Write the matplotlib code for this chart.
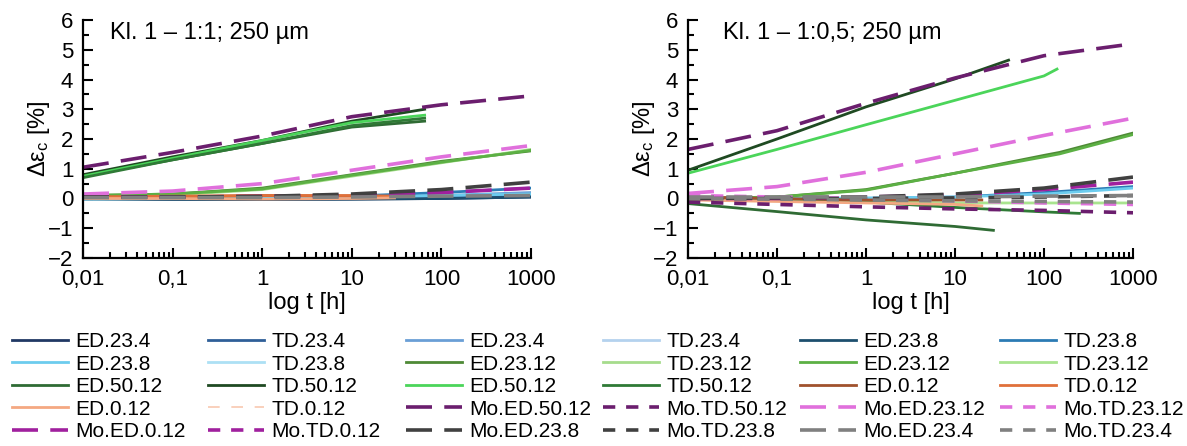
import numpy as np
import matplotlib
matplotlib.use("Agg")
import matplotlib.pyplot as plt
from matplotlib.ticker import MultipleLocator, LogLocator, NullFormatter
from matplotlib.lines import Line2D

plt.rcParams['font.family'] = ['Liberation Sans', 'DejaVu Sans']
plt.rcParams['mathtext.fontset'] = 'custom'
plt.rcParams['mathtext.rm'] = 'Liberation Sans'
plt.rcParams['mathtext.it'] = 'Liberation Sans:italic'

# ---- legend entries (row by row as in the picture) ----
labels = ["ED.23.4", "TD.23.4", "ED.23.4", "TD.23.4", "ED.23.8", "TD.23.8",
          "ED.23.8", "TD.23.8", "ED.23.12", "TD.23.12", "ED.23.12", "TD.23.12",
          "ED.50.12", "TD.50.12", "ED.50.12", "TD.50.12", "ED.0.12", "TD.0.12",
          "ED.0.12", "TD.0.12", "Mo.ED.50.12", "Mo.TD.50.12", "Mo.ED.23.12", "Mo.TD.23.12",
          "Mo.ED.0.12", "Mo.TD.0.12", "Mo.ED.23.8", "Mo.TD.23.8", "Mo.ED.23.4", "Mo.TD.23.4"]
colors = ["#203864", "#2f5f98", "#6a9fd6", "#b4d2ee", "#1d4f6e", "#2b7bb4",
          "#6cccee", "#ade0f4", "#4e8a36", "#a6dc8c", "#5cb044", "#a9e48f",
          "#2f6b34", "#1f4a22", "#4bd55a", "#2f7a36", "#a0522d", "#e0703a",
          "#f4a882", "#f8c8b0", "#6b1e6e", "#6b1e6e", "#e070dc", "#e070dc",
          "#a0209e", "#a0209e", "#404040", "#404040", "#808080", "#808080"]
kinds = ["s"] * 19 + ["thin"] + ["long", "short"] * 5

# ---- time axis points [h] ----
t_full = [0.01, 0.1, 1, 10, 100, 1000]
t_50_left = [0.01, 0.1, 1, 10, 65]
t_0_left = [0.01, 0.1, 1, 10, 30]
t_50_up_right = [0.01, 0.1, 1, 10, 40]
t_50_bright_right = [0.01, 0.1, 1, 10, 100, 140]
t_50_down_right = [0.01, 0.1, 1, 10, 27]
t_50_neg_right = [0.01, 0.1, 1, 10, 100, 250]
t_0_right = [0.01, 0.1, 1, 10, 20]
t_23_12_right = [0.01, 0.1, 1, 10, 100, 150, 1000]

# ---- left chart: Kl. 1 - 1:1; 250 um ----
left_ed_23_4 = [0.0, -0.02, -0.03, -0.02, 0.0, 0.05]
left_td_23_4 = [0.0, 0.0, 0.0, 0.02, 0.05, 0.1]
left_ed_23_4b = [0.0, 0.0, 0.02, 0.05, 0.1, 0.2]
left_ed_23_8 = [-0.02, -0.03, -0.03, -0.02, 0.0, 0.05]
left_td_23_8 = [0.0, 0.0, 0.02, 0.08, 0.2, 0.35]
left_ed_23_8b = [-0.02, 0.0, 0.02, 0.05, 0.1, 0.15]
left_ed_23_12 = [0.1, 0.15, 0.35, 0.8, 1.25, 1.6]
left_td_23_12 = [0.08, 0.12, 0.3, 0.75, 1.2, 1.65]
left_ed_23_12b = [0.1, 0.15, 0.32, 0.78, 1.22, 1.62]
left_ed_50_12 = [0.75, 1.3, 1.85, 2.4, 2.6]
left_td_50_12 = [0.8, 1.4, 1.95, 2.6, 3.0]
left_ed_50_12b = [0.75, 1.35, 1.95, 2.55, 2.8]
left_td_50_12b = [0.7, 1.3, 1.85, 2.45, 2.7]
left_ed_0_12 = [0.05, 0.05, 0.1, 0.08, 0.05]
left_td_0_12 = [0.05, 0.08, 0.1, 0.1, 0.08]
left_ed_0_12b = [0.0, 0.0, -0.02, 0.0, 0.02]
left_mo_ed_50_12 = [1.05, 1.55, 2.1, 2.75, 3.15, 3.45]
left_mo_ed_23_12 = [0.15, 0.25, 0.5, 0.95, 1.4, 1.78]
left_mo_ed_0_12 = [0.05, 0.05, 0.07, 0.1, 0.2, 0.35]
left_mo_ed_23_8 = [0.05, 0.05, 0.07, 0.15, 0.3, 0.55]
left_mo_ed_23_4 = [0.03, 0.03, 0.03, 0.05, 0.08, 0.1]

# ---- right chart: Kl. 1 - 1:0,5; 250 um ----
right_td_23_8 = [0.0, 0.0, 0.0, 0.05, 0.2, 0.4]
right_ed_23_8b = [0.0, 0.0, 0.02, 0.05, 0.15, 0.35]
right_ed_23_12 = [0.0, 0.05, 0.3, 0.85, 1.45, 1.55, 2.2]
right_ed_23_12b = [0.0, 0.05, 0.28, 0.85, 1.4, 1.5, 2.15]
right_td_23_12 = [0.0, -0.05, -0.1, -0.15, -0.15, -0.15, -0.15]
right_td_50_12 = [0.95, 2.0, 3.08, 4.02, 4.65]
right_ed_50_12b = [0.85, 1.65, 2.48, 3.3, 4.12, 4.35]
right_ed_50_12 = [-0.17, -0.44, -0.72, -0.94, -1.07]
right_td_50_12b = [0.0, -0.05, -0.12, -0.3, -0.45, -0.5]
right_ed_0_12 = [0.05, 0.0, -0.05, -0.05, -0.05]
right_ed_0_12b = [-0.05, -0.1, -0.15, -0.2, -0.25]
right_mo_ed_50_12 = [1.65, 2.28, 3.2, 4.05, 4.8, 5.2]
right_mo_td_50_12 = [-0.12, -0.2, -0.28, -0.35, -0.4, -0.48]
right_mo_ed_23_12 = [0.17, 0.4, 0.88, 1.5, 2.12, 2.7]
right_mo_td_23_12 = [0.1, 0.05, 0.0, -0.08, -0.15, -0.2]
right_mo_ed_0_12 = [0.0, 0.0, 0.05, 0.12, 0.3, 0.55]
right_mo_ed_23_8 = [0.0, 0.02, 0.05, 0.15, 0.35, 0.72]
right_mo_td_23_8 = [0.0, 0.0, 0.0, 0.02, 0.05, 0.1]
right_mo_ed_23_4 = [0.05, 0.05, 0.05, 0.05, 0.08, 0.1]
right_mo_td_23_4 = [0.0, -0.02, -0.05, -0.08, -0.1, -0.12]

xtick_vals = [0.01, 0.1, 1, 10, 100, 1000]
xtick_labels = ["0,01", "0,1", "1", "10", "100", "1000"]
titles = ["Kl. 1 \u2013 1:1; 250 \u00b5m", "Kl. 1 \u2013 1:0,5; 250 \u00b5m"]

left_series = [
    (0, t_full, left_ed_23_4), (1, t_full, left_td_23_4), (2, t_full, left_ed_23_4b),
    (4, t_full, left_ed_23_8), (5, t_full, left_td_23_8), (6, t_full, left_ed_23_8b),
    (8, t_full, left_ed_23_12), (9, t_full, left_td_23_12), (10, t_full, left_ed_23_12b),
    (12, t_50_left, left_ed_50_12), (13, t_50_left, left_td_50_12),
    (14, t_50_left, left_ed_50_12b), (15, t_50_left, left_td_50_12b),
    (16, t_0_left, left_ed_0_12), (17, t_0_left, left_td_0_12), (18, t_0_left, left_ed_0_12b),
    (20, t_full, left_mo_ed_50_12), (22, t_full, left_mo_ed_23_12),
    (24, t_full, left_mo_ed_0_12), (26, t_full, left_mo_ed_23_8), (28, t_full, left_mo_ed_23_4),
]
right_series = [
    (5, t_full, right_td_23_8), (6, t_full, right_ed_23_8b),
    (8, t_23_12_right, right_ed_23_12), (10, t_23_12_right, right_ed_23_12b),
    (11, t_23_12_right, right_td_23_12),
    (12, t_50_down_right, right_ed_50_12), (13, t_50_up_right, right_td_50_12),
    (14, t_50_bright_right, right_ed_50_12b), (15, t_50_neg_right, right_td_50_12b),
    (16, t_0_right, right_ed_0_12), (18, t_0_right, right_ed_0_12b),
    (20, t_full, right_mo_ed_50_12), (21, t_full, right_mo_td_50_12),
    (22, t_full, right_mo_ed_23_12), (23, t_full, right_mo_td_23_12),
    (24, t_full, right_mo_ed_0_12), (26, t_full, right_mo_ed_23_8),
    (27, t_full, right_mo_td_23_8), (28, t_full, right_mo_ed_23_4), (29, t_full, right_mo_td_23_4),
]


def line_style(i):
    k = kinds[i]
    if k == "long":
        return dict(lw=2.6, dashes=(7.2, 3.4))
    if k == "short":
        return dict(lw=2.6, dashes=(3.4, 3.0))
    if k == "thin":
        return dict(lw=1.2, dashes=(7, 7))
    return dict(lw=2.0, linestyle="-")


W, H = 1187, 446
fig = plt.figure(figsize=(W / 100, H / 100), dpi=100)
ax1 = fig.add_axes([83 / W, (H - 258) / H, 448 / W, 238 / H])
ax2 = fig.add_axes([688 / W, (H - 258) / H, 445 / W, 238 / H])

for ax, series, title, tx in [(ax1, left_series, titles[0], 0.06), (ax2, right_series, titles[1], 0.079)]:
    for i, t, y in series:
        ax.plot(t, y, color=colors[i], **line_style(i))
    ax.set_xscale("log")
    ax.set_xlim(0.01, 1000)
    ax.set_ylim(-2, 6)
    ax.set_xticks(xtick_vals)
    ax.set_xticklabels(xtick_labels)
    ax.xaxis.set_minor_locator(LogLocator(base=10, subs=np.arange(2, 10)))
    ax.xaxis.set_minor_formatter(NullFormatter())
    ax.yaxis.set_major_locator(MultipleLocator(1))
    ax.yaxis.set_minor_locator(MultipleLocator(0.5))
    ax.tick_params(which="major", direction="in", length=7, width=1.5, labelsize=16)
    ax.tick_params(which="minor", direction="in", length=4, width=1.5)
    ax.tick_params(axis="x", which="major", pad=8)
    ax.tick_params(axis="y", which="major", pad=7)
    for s in ["top", "right"]:
        ax.spines[s].set_visible(False)
    for s in ["left", "bottom"]:
        ax.spines[s].set_linewidth(1.6)
    ax.set_xlabel("log t [h]", fontsize=17, labelpad=1)
    ax.set_ylabel("\u0394\u03b5$_\\mathrm{c}$ [%]", fontsize=17)
    ax.yaxis.set_label_coords(-0.07, 0.5)
    ax.text(tx, 0.945, title, transform=ax.transAxes, fontsize=17, va="center", ha="left")

# legend: six columns, filled row by row
handles = []
for i in range(len(labels)):
    handles.append(Line2D([], [], color=colors[i], **line_style(i)))

col_x = [12, 208, 406, 603, 800, 1000]
for c in range(6):
    fig.legend(handles[c::6], labels[c::6], loc="upper left",
               bbox_to_anchor=(col_x[c] / W, 1 - 332 / H), frameon=False,
               fontsize=15, handlelength=2.7, handletextpad=0.34,
               labelspacing=0.17, borderpad=0, borderaxespad=0)

fig.savefig("out.png", dpi=100)
